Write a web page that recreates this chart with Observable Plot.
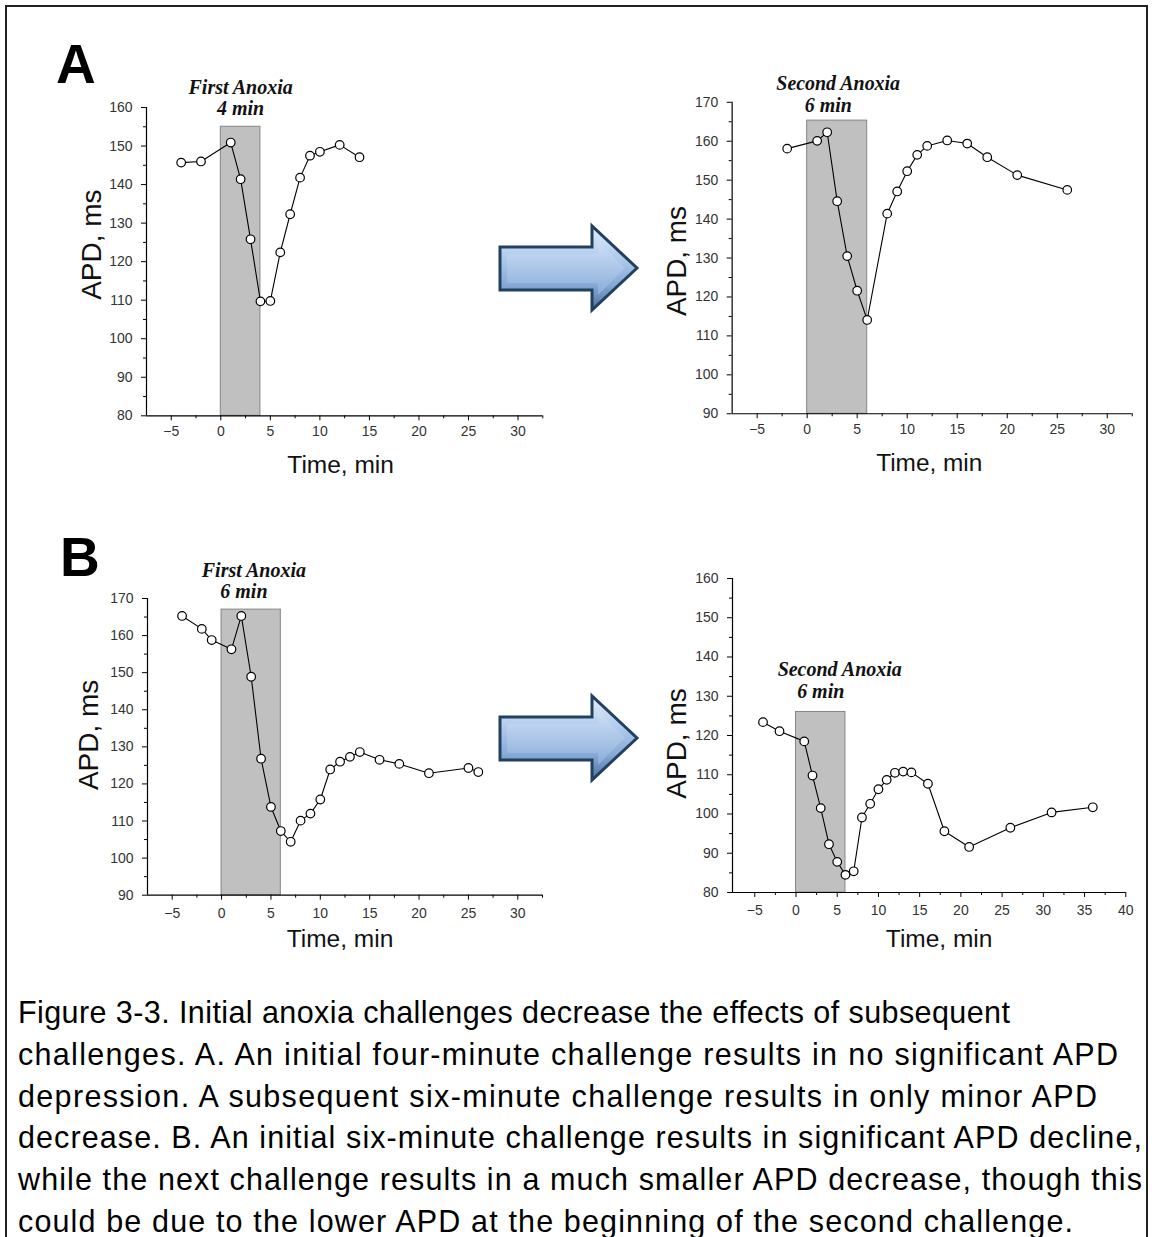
<!DOCTYPE html>
<html>
<head>
<meta charset="utf-8">
<script src="https://cdn.jsdelivr.net/npm/d3@7"></script>
<script src="https://cdn.jsdelivr.net/npm/@observablehq/plot@0.6"></script>
<style>
  body { margin: 0; background: #fff; }
  #root { position: relative; width: 1152px; height: 1237px; overflow: hidden; background: #fff;
          font-family: "Liberation Sans", Arial, sans-serif; }
  .abs { position: absolute; }
  .letter { position: absolute; font-weight: bold; font-size: 55px; line-height: 1; color: #000; }
  .capline { position: absolute; left: 18px; font-size: 30.5px; line-height: 1; white-space: nowrap; color: #000; }
  #frame { position: absolute; left: 5px; top: 5px; width: 1139px; height: 1300px; border: 2px solid #222; }
</style>
</head>
<body>
<div id="root">
  <div id="frame"></div>
  <div class="letter" style="left:56px; top:37px;">A</div>
  <div class="letter" style="left:60px; top:530px;">B</div>
  <svg class="abs" style="left:0;top:0" width="1152" height="1237" id="arrows"></svg>
  <div id="pA1" class="abs"></div>
  <div id="pA2" class="abs"></div>
  <div id="pB1" class="abs"></div>
  <div id="pB2" class="abs"></div>
  <div id="caption"></div>
</div>
<script>
// ---------------- data ----------------
// Panel A, first anoxia (4 min)
const a1Time = [-4, -2, 1, 2, 3, 4, 5, 6, 7, 8, 9, 10, 12, 14];
const a1APD  = [145.7, 146.0, 150.9, 141.4, 125.8, 109.7, 109.8, 122.4, 132.3, 141.8, 147.5, 148.5, 150.3, 147.1];
// Panel A, second anoxia (6 min)
const a2Time = [-2, 1, 2, 3, 4, 5, 6, 8, 9, 10, 11, 12, 14, 16, 18, 21, 26];
const a2APD  = [158.1, 160.1, 162.3, 144.6, 130.5, 121.6, 114.1, 141.4, 147.1, 152.3, 156.5, 158.8, 160.2, 159.4, 155.9, 151.3, 147.5];
// Panel B, first anoxia (6 min)
const b1Time = [-4, -2, -1, 1, 2, 3, 4, 5, 6, 7, 8, 9, 10, 11, 12, 13, 14, 16, 18, 21, 25, 26];
const b1APD  = [165.3, 161.8, 158.8, 156.3, 165.3, 148.9, 126.8, 113.8, 107.3, 104.4, 110.1, 112.0, 115.8, 123.9, 126.0, 127.3, 128.6, 126.5, 125.4, 122.9, 124.3, 123.2];
// Panel B, second anoxia (6 min)
const b2Time = [-4, -2, 1, 2, 3, 4, 5, 6, 7, 8, 9, 10, 11, 12, 13, 14, 16, 18, 21, 26, 31, 36];
const b2APD  = [123.4, 121.1, 118.5, 109.8, 101.5, 92.3, 87.8, 84.5, 85.4, 99.1, 102.6, 106.3, 108.7, 110.5, 110.8, 110.6, 107.7, 95.6, 91.6, 96.5, 100.4, 101.7];

// anoxia windows: [start, end, top of shaded box]
const a1Window = [0, 4, 155];
const a2Window = [0, 6, 165.3];
const b1Window = [0, 6, 167];
const b2Window = [0, 6, 126];

// annotation labels
const a1Labels = ["First Anoxia", "4 min"];
const a2Labels = ["Second Anoxia", "6 min"];
const b1Labels = ["First Anoxia", "6 min"];
const b2Labels = ["Second Anoxia", "6 min"];

// tick values
const xTicks30 = [-5, 0, 5, 10, 15, 20, 25, 30];
const xMinor30 = [-2.5, 2.5, 7.5, 12.5, 17.5, 22.5, 27.5, 32.5];
const xTicks40 = [-5, 0, 5, 10, 15, 20, 25, 30, 35, 40];
const xMinor40 = [-2.5, 2.5, 7.5, 12.5, 17.5, 22.5, 27.5, 32.5, 37.5];
const yTicks80 = [80, 90, 100, 110, 120, 130, 140, 150, 160];
const yMinor80 = [85, 95, 105, 115, 125, 135, 145, 155];
const yTicks90 = [90, 100, 110, 120, 130, 140, 150, 160, 170];
const yMinor90 = [95, 105, 115, 125, 135, 145, 155, 165];

const xLabel = "Time, min";
const yLabel = "APD, ms";

const captionLines = [
  "Figure 3-3. Initial anoxia challenges decrease the effects of subsequent",
  "challenges. A. An initial four-minute challenge results in no significant APD",
  "depression. A subsequent six-minute challenge results in only minor APD",
  "decrease. B. An initial six-minute challenge results in significant APD decline,",
  "while the next challenge results in a much smaller APD decrease, though this",
  "could be due to the lower APD at the beginning of the second challenge."
];
// right end (px) of each caption line in the reference layout
const captionLineEnds = [1010, 1118, 1097, 1142, 1142, 1073];

// ---------------- drawing ----------------
const ML = 90, MT = 50, MR = 20, MB = 70;

function panel(el, cfg) {
  const data = cfg.time.map((t, i) => ({t, v: cfg.apd[i]}));
  const win = [{x1: cfg.win[0], x2: cfg.win[1], top: cfg.win[2], mid: (cfg.win[0] + cfg.win[1]) / 2}];
  const y0 = cfg.yDomain[0];
  const annoFont = 20;
  const serif = "Liberation Serif, Times New Roman, serif";
  const chart = Plot.plot({
    width: cfg.w + ML + MR,
    height: cfg.h + MT + MB,
    marginLeft: ML, marginTop: MT, marginRight: MR, marginBottom: MB,
    x: {domain: cfg.xDomain},
    y: {domain: cfg.yDomain},
    style: {background: "transparent", overflow: "visible", fontFamily: "Liberation Sans, Arial, sans-serif"},
    marks: [
      Plot.rect(win, {x1: "x1", x2: "x2", y1: () => y0, y2: "top", fill: "#c0c0c0", stroke: "#858585", strokeWidth: 1}),
      Plot.line(data, {x: "t", y: "v", stroke: "#000", strokeWidth: 1.1}),
      Plot.dot(data, {x: "t", y: "v", r: 4.3, fill: "#fff", stroke: "#000", strokeWidth: 1.2}),
      Plot.ruleX([cfg.xDomain[0]], {stroke: "#000", strokeWidth: 1.2}),
      Plot.ruleY([cfg.yDomain[0]], {stroke: "#000", strokeWidth: 1.2}),
      Plot.axisX(cfg.xTicks, {tickSize: 5, tickPadding: cfg.xPad, fontSize: 14, label: null, color: "#333", stroke: "#000"}),
      Plot.axisX(cfg.xMinor, {tickSize: 3, tickFormat: () => "", label: null, stroke: "#000"}),
      Plot.axisY(cfg.yTicks, {tickSize: 5, tickPadding: 9, fontSize: 14, label: null, color: "#333", stroke: "#000"}),
      Plot.axisY(cfg.yMinor, {tickSize: 3, tickFormat: () => "", label: null, stroke: "#000"}),
      Plot.text(win, {x: "mid", y: "top", text: () => cfg.labels[0], dx: cfg.anno[0][0], dy: cfg.anno[0][1],
        lineAnchor: "top", fontSize: annoFont, fontWeight: "bold", fontStyle: "italic", fontFamily: serif, fill: "#111"}),
      Plot.text(win, {x: "mid", y: "top", text: () => cfg.labels[1], dx: cfg.anno[1][0], dy: cfg.anno[1][1],
        lineAnchor: "top", fontSize: annoFont, fontWeight: "bold", fontStyle: "italic", fontFamily: serif, fill: "#111"}),
      Plot.text([xLabel], {frameAnchor: "bottom", textAnchor: "middle", lineAnchor: "top", dx: cfg.xl[0], dy: cfg.xl[1], fontSize: 24.5, fill: "#111"}),
      Plot.text([yLabel], {frameAnchor: "left", textAnchor: "middle", lineAnchor: "middle", rotate: -90, dx: cfg.yl[0], dy: cfg.yl[1], fontSize: 28, fill: "#111"})
    ]
  });
  const e = document.getElementById(el);
  e.style.left = (cfg.left - ML) + "px";
  e.style.top = (cfg.top - MT) + "px";
  e.appendChild(chart);
}

panel("pA1", {time: a1Time, apd: a1APD, win: a1Window, labels: a1Labels,
  left: 145.7, top: 106.7, w: 396.3, h: 308.3, xDomain: [-7.5, 32.5], yDomain: [80, 160],
  xTicks: xTicks30, xMinor: xMinor30, yTicks: yTicks80, yMinor: yMinor80, xPad: 5,
  anno: [[0, -46.9], [0, -25.9]], xl: [-4, 40], yl: [-54, -17]});
panel("pA2", {time: a2Time, apd: a2APD, win: a2Window, labels: a2Labels,
  left: 732.3, top: 102.3, w: 401.7, h: 312.7, xDomain: [-7.5, 32.5], yDomain: [90, 170],
  xTicks: xTicks30, xMinor: xMinor30, yTicks: yTicks90, yMinor: yMinor90, xPad: 5,
  anno: [[1, -44.9], [-9, -23.2]], xl: [-3, 40], yl: [-55, 3]});
panel("pB1", {time: b1Time, apd: b1APD, win: b1Window, labels: b1Labels,
  left: 147.3, top: 598.3, w: 395, h: 296.7, xDomain: [-7.5, 32.5], yDomain: [90, 170],
  xTicks: xTicks30, xMinor: xMinor30, yTicks: yTicks90, yMinor: yMinor90, xPad: 8,
  anno: [[2.7, -46.8], [-7.3, -26.2]], xl: [-5, 34], yl: [-58, -12]});
panel("pB2", {time: b2Time, apd: b2APD, win: b2Window, labels: b2Labels,
  left: 731.7, top: 578.3, w: 393.3, h: 314, xDomain: [-7.7, 40], yDomain: [80, 160],
  xTicks: xTicks40, xMinor: xMinor40, yTicks: yTicks80, yMinor: yMinor80, xPad: 8,
  anno: [[19, -50.5], [0, -28.2]], xl: [10, 36.7], yl: [-55, 8]});

// decorative arrows
(function () {
  const svg = d3.select("#arrows");
  const defs = svg.append("defs");
  const g = defs.append("linearGradient").attr("id", "arrowGrad").attr("x1", 0).attr("y1", 0).attr("x2", 0).attr("y2", 1);
  g.append("stop").attr("offset", "0%").attr("stop-color", "#e3eefb");
  g.append("stop").attr("offset", "35%").attr("stop-color", "#b3cdee");
  g.append("stop").attr("offset", "70%").attr("stop-color", "#86a9d6");
  g.append("stop").attr("offset", "100%").attr("stop-color", "#4d719f");
  const g2 = defs.append("linearGradient").attr("id", "arrowGrad2").attr("x1", 0).attr("y1", 0).attr("x2", 0).attr("y2", 1);
  g2.append("stop").attr("offset", "0%").attr("stop-color", "#cfe0f6");
  g2.append("stop").attr("offset", "100%").attr("stop-color", "#8eb0db");
  for (const cy of [268, 738]) {
    const x0 = 500, xh = 592, xt = 637;
    const outer = `M${x0},${cy - 21} L${xh},${cy - 21} L${xh},${cy - 42} L${xt},${cy} L${xh},${cy + 42} L${xh},${cy + 22} L${x0},${cy + 22} Z`;
    svg.append("path").attr("d", outer).attr("fill", "url(#arrowGrad)").attr("stroke", "#23405f").attr("stroke-width", 3).attr("stroke-linejoin", "miter");
    const inner = `M${x0 + 7},${cy - 14} L${xh + 6},${cy - 14} L${xh + 6},${cy - 27} L${xt - 12},${cy} L${xh + 6},${cy + 27} L${xh + 6},${cy + 15} L${x0 + 7},${cy + 15} Z`;
    svg.append("path").attr("d", inner).attr("fill", "url(#arrowGrad2)").attr("opacity", 0.85);
  }
})();

// caption, one line per row, stretched to the reference line lengths
(function () {
  const cap = document.getElementById("caption");
  const fs = 30.5, firstBaseline = 1023, step = 41.7;
  captionLines.forEach((line, i) => {
    const d = document.createElement("div");
    d.className = "capline";
    d.textContent = line;
    d.style.top = (firstBaseline + i * step - 0.8465 * fs) + "px";
    cap.appendChild(d);
    const natural = d.getBoundingClientRect().width;
    const target = captionLineEnds[i] - 18;
    const ls = (target - natural) / Math.max(1, line.length - 1);
    d.style.letterSpacing = ls.toFixed(3) + "px";
  });
})();
</script>
</body>
</html>
